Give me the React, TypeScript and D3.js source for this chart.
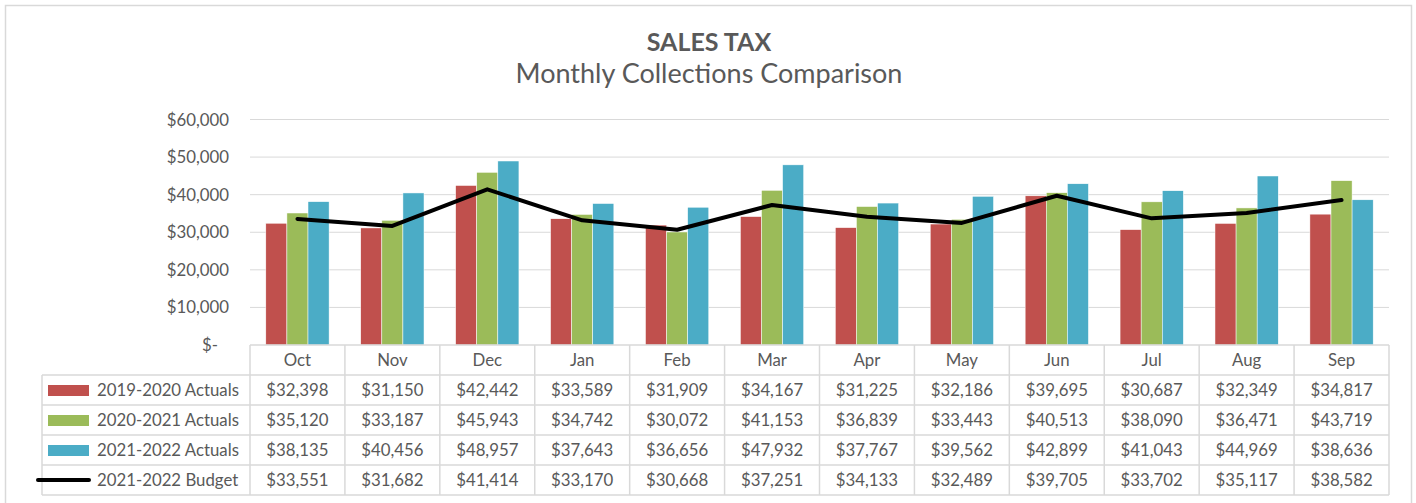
import React from "react";
import * as d3 from "d3";

const months = ["Oct","Nov","Dec","Jan","Feb","Mar","Apr","May","Jun","Jul","Aug","Sep"];
const seriesNames = ["2019-2020 Actuals","2020-2021 Actuals","2021-2022 Actuals"];
const fy2020 = [32398,31150,42442,33589,31909,34167,31225,32186,39695,30687,32349,34817];
const fy2021 = [35120,33187,45943,34742,30072,41153,36839,33443,40513,38090,36471,43719];
const fy2022 = [38135,40456,48957,37643,36656,47932,37767,39562,42899,41043,44969,38636];
const budgetName = "2021-2022 Budget";
const budget = [33551,31682,41414,33170,30668,37251,34133,32489,39705,33702,35117,38582];
const yTicks = [0,10000,20000,30000,40000,50000,60000];
const colors = ["#C0504D","#9BBB59","#4BACC6"];

const W = 1416, H = 503;
const left = 250, right = 1389, top = 119.5, bottom = 345;
const rowH = 30;
const legendLeft = 42;
const font = "Lato, 'Open Sans', sans-serif";
const txt = "#595959";
const grid = "#D9D9D9";
const fs = 16.8;

export default function App() {
  const x = d3.scaleBand().domain(months).range([left, right]).paddingInner(0).paddingOuter(0);
  const y = d3.scaleLinear().domain([0, 60000]).range([bottom, top]);
  const bw = x.bandwidth();
  const barW = bw / 4.5;
  const series = [fy2020, fy2021, fy2022];
  const fmt = (v: number) => "$" + d3.format(",")(v);
  const yFmt = (v: number) => (v === 0 ? "$-" : "$" + d3.format(",")(v));
  const line = d3.line<number>().x((_, i) => x(months[i])! + bw / 2).y((d) => y(d));
  const rows = [...seriesNames, budgetName];
  const rowVals = [fy2020, fy2021, fy2022, budget];
  const tableTop = bottom;
  return (
    <svg width={W} height={H} style={{ position: "absolute", left: 0, top: 0, background: "#fff" }}>
      <rect x={5.5} y={5.5} width={1406} height={510} fill="#fff" stroke={grid} strokeWidth={1.5} />
      <text x={709} y={51} textAnchor="middle" fontFamily={font} fontWeight="bold" fontSize={25} fill={txt}>SALES TAX</text>
      <text x={709} y={83} textAnchor="middle" fontFamily={font} fontSize={27} fill={txt}>Monthly Collections Comparison</text>
      {yTicks.map((t) => (
        <g key={t}>
          {t > 0 && <line x1={left} x2={right} y1={y(t)} y2={y(t)} stroke={grid} strokeWidth={1} />}
          <text x={t === 0 ? 218 : 229} y={y(t) + 6} textAnchor="end" fontFamily={font} fontSize={fs} fill={txt}>{yFmt(t)}</text>
        </g>
      ))}
      {series.map((s, si) =>
        s.map((v, i) => (
          <rect key={si + "-" + i} x={x(months[i])! + (bw - 3 * barW) / 2 + si * barW} y={y(v)} width={barW} height={bottom - y(v)} fill={colors[si]} stroke="#fff" strokeWidth={0.5} />
        ))
      )}
      <path d={line(budget) || ""} fill="none" stroke="#000" strokeWidth={4} strokeLinejoin="round" strokeLinecap="round" />
      <g stroke={grid} strokeWidth={1.5} fill="none">
        <line x1={left} x2={right} y1={tableTop} y2={tableTop} />
        {[1,2,3,4,5].map((r) => (
          <line key={r} x1={legendLeft} x2={right} y1={tableTop + r * rowH} y2={tableTop + r * rowH} />
        ))}
        <line x1={legendLeft} x2={legendLeft} y1={tableTop + rowH} y2={tableTop + 5 * rowH} />
        {months.map((m) => (
          <line key={m} x1={x(m)!} x2={x(m)!} y1={tableTop} y2={tableTop + 5 * rowH} />
        ))}
        <line x1={right} x2={right} y1={tableTop} y2={tableTop + 5 * rowH} />
      </g>
      {months.map((m) => (
        <text key={m} x={x(m)! + bw / 2} y={tableTop + 21} textAnchor="middle" fontFamily={font} fontSize={fs} fill={txt}>{m}</text>
      ))}
      {rows.map((r, ri) => (
        <g key={r}>
          {ri < 3 ? (
            <rect x={48} y={tableTop + (ri + 1) * rowH + 10} width={41} height={11} fill={colors[ri]} />
          ) : (
            <line x1={38} x2={89} y1={tableTop + (ri + 1) * rowH + 15} y2={tableTop + (ri + 1) * rowH + 15} stroke="#000" strokeWidth={4} strokeLinecap="round" />
          )}
          <text x={97} y={tableTop + (ri + 1) * rowH + 21} fontFamily={font} fontSize={fs} fill={txt}>{r}</text>
          {rowVals[ri].map((v, i) => (
            <text key={i} x={x(months[i])! + bw / 2} y={tableTop + (ri + 1) * rowH + 21} textAnchor="middle" fontFamily={font} fontSize={fs} fill={txt}>{fmt(v)}</text>
          ))}
        </g>
      ))}
    </svg>
  );
}
